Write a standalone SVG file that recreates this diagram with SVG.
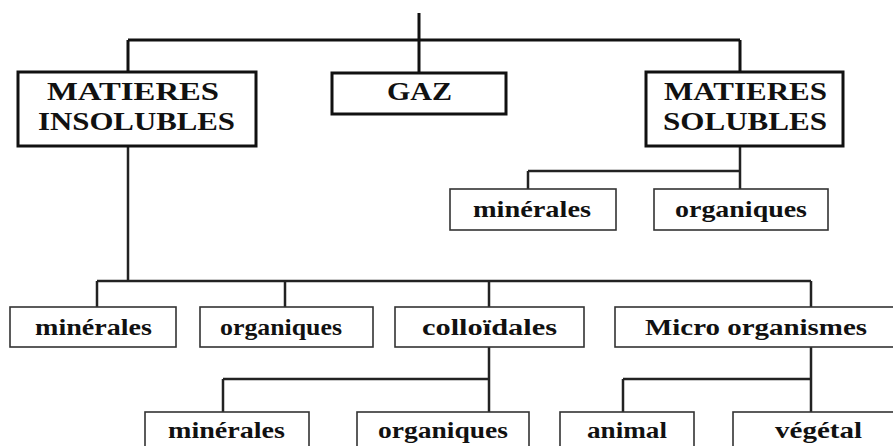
<svg xmlns="http://www.w3.org/2000/svg" width="893" height="446" viewBox="0 0 893 446">
<style>
.big{fill:#fff;stroke:#111;stroke-width:3}
.sm{fill:#fff;stroke:#333;stroke-width:1.6}
.t{font-weight:bold;fill:#111;text-anchor:start}
.u{font-size:26px}
.l{font-size:24px}
.c{fill:none;stroke:#111;stroke-width:3}
.c2{fill:none;stroke:#222;stroke-width:2.5}
</style>
<rect width="893" height="446" fill="#fff"/>
<g id="connectors">
<path class="c" d="M419 13V72M128 40H740M128 40V72M740 40V72"/>
<path class="c2" d="M740 146V171M528 171H740M528 171V189M740 171V189"/>
<path class="c2" d="M128 146V281M97 281H811M97 281V307M285 281V307M489 281V307M811 281V307"/>
<path class="c2" d="M489 347V379M223 379H489M223 379V412M489 379V412"/>
<path class="c2" d="M811 347V379M623 379H811M623 379V412M811 379V412"/>
</g>
<g font-family="Liberation Serif, DejaVu Serif, serif">
<g id="insolubles">
<rect class="big" x="18" y="72" width="238" height="74"/>
<text class="t u" x="47" y="100" textLength="172" lengthAdjust="spacingAndGlyphs">MATIERES</text>
<text class="t u" x="38" y="130" textLength="197" lengthAdjust="spacingAndGlyphs">INSOLUBLES</text>
</g>
<g id="gaz">
<rect class="big" x="332" y="73" width="174" height="41"/>
<text class="t u" x="387" y="100" textLength="65" lengthAdjust="spacingAndGlyphs">GAZ</text>
</g>
<g id="solubles">
<rect class="big" x="646" y="72" width="197" height="74"/>
<text class="t u" x="664" y="100" textLength="163" lengthAdjust="spacingAndGlyphs">MATIERES</text>
<text class="t u" x="663" y="130" textLength="164" lengthAdjust="spacingAndGlyphs">SOLUBLES</text>
</g>
<g id="sol-minerales">
<rect class="sm" x="450" y="189" width="166" height="41"/>
<text class="t l" x="473" y="217" textLength="118" lengthAdjust="spacingAndGlyphs">minérales</text>
</g>
<g id="sol-organiques">
<rect class="sm" x="654" y="189" width="174" height="41"/>
<text class="t l" x="675" y="217" textLength="132" lengthAdjust="spacingAndGlyphs">organiques</text>
</g>
<g id="ins-minerales">
<rect class="sm" x="10" y="307" width="166" height="40"/>
<text class="t l" x="35" y="335" textLength="117" lengthAdjust="spacingAndGlyphs">minérales</text>
</g>
<g id="ins-organiques">
<rect class="sm" x="200" y="307" width="173" height="40"/>
<text class="t l" x="220" y="335" textLength="122" lengthAdjust="spacingAndGlyphs">organiques</text>
</g>
<g id="colloidales">
<rect class="sm" x="395" y="307" width="189" height="40"/>
<text class="t l" x="422" y="335" textLength="135" lengthAdjust="spacingAndGlyphs">colloïdales</text>
</g>
<g id="micro">
<rect class="sm" x="615" y="307" width="290" height="40"/>
<text class="t l" x="645" y="335" textLength="222" lengthAdjust="spacingAndGlyphs">Micro organismes</text>
</g>
<g id="col-minerales">
<rect class="sm" x="145" y="412" width="164" height="45"/>
<text class="t l" x="168" y="438" textLength="117" lengthAdjust="spacingAndGlyphs">minérales</text>
</g>
<g id="col-organiques">
<rect class="sm" x="357" y="412" width="172" height="45"/>
<text class="t l" x="378" y="438" textLength="130" lengthAdjust="spacingAndGlyphs">organiques</text>
</g>
<g id="animal">
<rect class="sm" x="560" y="412" width="134" height="45"/>
<text class="t l" x="587" y="438" textLength="80" lengthAdjust="spacingAndGlyphs">animal</text>
</g>
<g id="vegetal">
<rect class="sm" x="733" y="412" width="172" height="45"/>
<text class="t l" x="775" y="438" textLength="87" lengthAdjust="spacingAndGlyphs">végétal</text>
</g>
</g>
</svg>
